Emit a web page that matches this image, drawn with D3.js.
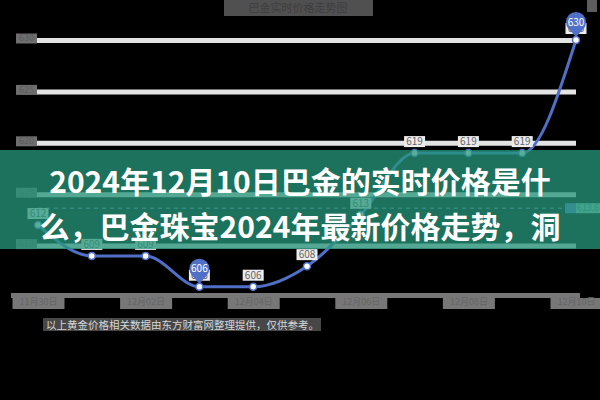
<!DOCTYPE html>
<html><head><meta charset="utf-8">
<script src="https://cdn.jsdelivr.net/npm/d3@7/dist/d3.min.js"></script>
<style>html,body{margin:0;padding:0;background:#000;} svg{display:block;}</style>
</head><body><svg id="c" width="600" height="400"></svg>
<script>
// ---- data ----
const dates = ["11月30日","12月01日","12月02日","12月03日","12月04日","12月05日","12月06日","12月07日","12月08日","12月09日","12月10日"];
const prices = [612, 609, 609, 606, 606, 608, 613, 619, 619, 619, 630];
const yTicks = [605, 610, 615, 620, 625, 630];
const xTickDates = ["11月30日","12月02日","12月04日","12月06日","12月08日","12月10日"];
const chartTitle = "巴金实时价格走势图";
const bannerLines = ["2024年12月10日巴金的实时价格是什", "么，巴金珠宝2024年最新价格走势，洞"];
const caption = "以上黄金价格相关数据由东方财富网整理提供，仅供参考。";

const FONT = "'Noto Sans CJK SC','Noto Sans',sans-serif";
const svg = d3.select("#c");
svg.append("rect").attr("width",600).attr("height",400).attr("fill","#000");

const x = d3.scalePoint().domain(dates).range([38, 576]);
const y = d3.scaleLinear().domain([605, 630]).range([297, 40]);

// chart title box
const tg = svg.append("g");
tg.append("rect").attr("x",224).attr("y",0).attr("width",149).attr("height",16).attr("fill","#505050");
tg.append("text").attr("x",298).attr("y",12).attr("text-anchor","middle")
  .attr("font-family",FONT).attr("font-size",11).attr("fill","#3e3e3e").text(chartTitle);
svg.append("rect").attr("x",587).attr("y",0).attr("width",10).attr("height",12).attr("fill","#5e5e5e");

// y axis with gridlines
const yAxis = d3.axisLeft(y).tickValues(yTicks.filter(v => v !== 605)).tickSize(-539).tickPadding(4).tickFormat(d3.format("d"));
const yg = svg.append("g").attr("transform","translate(37,0)").call(yAxis);
yg.select(".domain").remove();
yg.selectAll(".tick line").attr("stroke","#e3e3e3").attr("stroke-width",5);
yg.selectAll(".tick").insert("rect","text").attr("x",-21).attr("y",-7).attr("width",21).attr("height",10).attr("fill","#6e6e6e");
yg.selectAll(".tick text").attr("font-family",FONT).attr("font-size",9).attr("fill","#5c5c5c").attr("x",-3).attr("dy","0.1em");

// x axis
svg.append("rect").attr("x",11).attr("y",293).attr("width",569).attr("height",5).attr("fill","#777");
const xAxis = d3.axisBottom(x).tickValues(xTickDates).tickSize(0).tickPadding(2);
const xg = svg.append("g").attr("transform","translate(0,298)").call(xAxis);
xg.select(".domain").remove();
xg.selectAll(".tick").insert("rect","text").attr("x",-26).attr("y",0).attr("width",52).attr("height",11).attr("fill","#777");
xg.selectAll(".tick text").attr("font-family",FONT).attr("font-size",9).attr("fill","#666").attr("dy","0.55em");

// average mark line
const avg = d3.mean(prices);
svg.append("line").attr("x1",38).attr("x2",576).attr("y1",y(avg)).attr("y2",y(avg))
  .attr("stroke","#7f93d6").attr("stroke-width",1).attr("stroke-dasharray","4,4");
svg.append("rect").attr("x",565).attr("y",y(avg)-5).attr("width",12).attr("height",10).attr("fill","#5b7bd0");
svg.append("rect").attr("x",576).attr("y",y(avg)-5).attr("width",24).attr("height",10).attr("fill","#9dc8c0");
svg.append("text").attr("x",577).attr("y",y(avg)+3.2).attr("font-family",FONT).attr("font-size",8.8)
  .attr("fill","#3f8a78").text(d3.format(".1f")(avg));

// line
const line = d3.line().x((d,i) => x(dates[i])).y(d => y(d)).curve(d3.curveMonotoneX);
svg.append("path").datum(prices).attr("d",line).attr("fill","none").attr("stroke","#5070c8").attr("stroke-width",3);

// points
svg.selectAll("circle.pt").data(prices).join("circle").attr("class","pt")
  .attr("cx",(d,i)=>x(dates[i])).attr("cy",d=>y(d)).attr("r",3.5)
  .attr("fill","#fff").attr("stroke","#5070c8").attr("stroke-width",1.5);

// data labels
const lg = svg.selectAll("g.lab").data(prices).join("g").attr("class","lab")
  .attr("transform",(d,i)=>`translate(${x(dates[i])},${y(d)})`);
lg.append("rect").attr("x",-10.5).attr("y",-17).attr("width",21).attr("height",11).attr("fill","#ececec");
lg.append("text").attr("y",-8).attr("text-anchor","middle").attr("font-family",FONT).attr("font-size",10)
  .attr("fill","#666").text(d=>d);

// pins for max / min
const maxI = prices.indexOf(d3.max(prices));
const minI = prices.indexOf(d3.min(prices));
function pinPath(r, d){
  const c = r/d, s = Math.sqrt(1-c*c);
  return `M0,${-3} L${-r*s},${-d-3+r*c} A${r},${r} 0 1 1 ${r*s},${-d-3+r*c} Z`;
}
[maxI, minI].forEach(i => {
  const g = svg.append("g").attr("transform",`translate(${x(dates[i])},${y(prices[i])})`);
  g.append("path").attr("d",pinPath(10,15)).attr("fill","#5070c8");
  g.append("text").attr("y",-14.5).attr("text-anchor","middle").attr("font-family",FONT).attr("font-size",10)
    .attr("fill","#fff").text(prices[i]);
});

// caption
svg.append("rect").attr("x",43).attr("y",318).attr("width",278).attr("height",13).attr("fill","#474747");
svg.append("text").attr("x",46).attr("y",329).attr("font-family",FONT).attr("font-size",10.5)
  .attr("fill","#d8d8d8").text(caption);

// banner overlay
svg.append("rect").attr("x",0).attr("y",150).attr("width",600).attr("height",99).attr("fill","rgb(38,150,122)").attr("fill-opacity",0.76);
svg.selectAll("text.banner").data(bannerLines).join("text").attr("class","banner")
  .attr("x",300).attr("y",(d,i)=>193+i*45).attr("text-anchor","middle")
  .attr("font-family","'Noto Sans CJK SC',sans-serif").attr("font-weight",700).attr("font-size",30)
  .attr("fill","#fff").text(d=>d);
</script></body></html>
